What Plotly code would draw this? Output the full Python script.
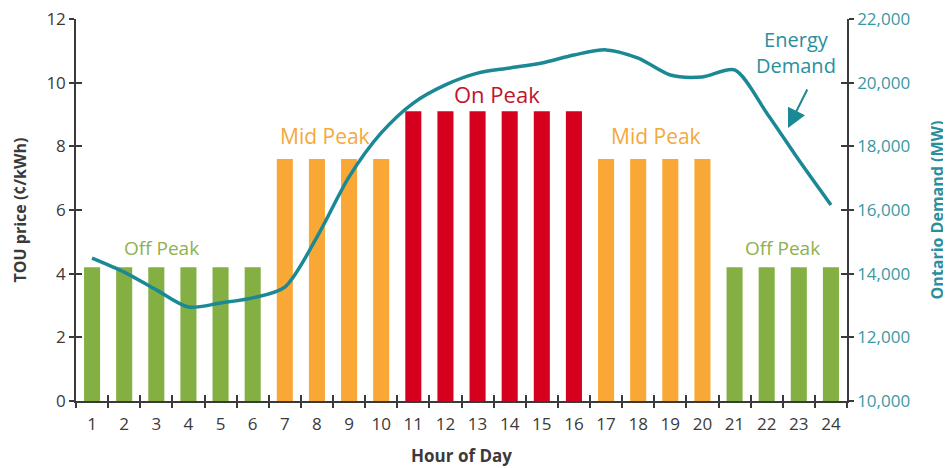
import plotly.graph_objects as go

hours = list(range(1, 25))
tou_price = [4.2]*6 + [7.6]*4 + [9.1]*6 + [7.6]*4 + [4.2]*4
period = ["off"]*6 + ["mid"]*4 + ["on"]*6 + ["mid"]*4 + ["off"]*4
demand_mw = [14490, 14050, 13490, 12950, 13080, 13240, 13580, 15150, 17040, 18420,
             19360, 19930, 20300, 20460, 20620, 20870, 21030, 20770, 20240, 20180,
             20400, 19050, 17570, 16160]
price_ticks = [0, 2, 4, 6, 8, 10, 12]
demand_ticks = [10000, 12000, 14000, 16000, 18000, 20000, 22000]

period_colors = {"off": "#84b043", "mid": "#f9a836", "on": "#d4001e"}
FONT = "Open Sans"
TEAL = "#1a8995"
AXIS = "#3a3a3a"

x_range = [hours[0] - 0.5, hours[-1] + 0.5]
boundaries = [h - 0.5 for h in hours] + [hours[-1] + 0.5]
p_range = [price_ticks[0], price_ticks[-1]]
d_range = [demand_ticks[0], demand_ticks[-1]]

fig = go.Figure()
fig.add_trace(go.Bar(
    x=hours, y=tou_price, width=0.5,
    marker=dict(color=[period_colors[p] for p in period], line=dict(width=0)),
    showlegend=False,
))
fig.add_trace(go.Scatter(
    x=hours, y=demand_mw, yaxis="y2", mode="lines",
    line=dict(color=TEAL, width=3.5, shape="spline", smoothing=0.8),
    showlegend=False,
))
# invisible helper traces so the tick-overlay axes get drawn
for xa, ya in [("x2", "y"), ("x3", "y"), ("x", "y3"), ("x", "y4")]:
    fig.add_trace(go.Scatter(
        x=hours, y=tou_price if ya in ("y", "y3") else demand_mw,
        xaxis=xa, yaxis=ya, mode="markers", marker=dict(opacity=0, size=1),
        hoverinfo="skip", showlegend=False,
    ))

common = dict(showgrid=False, zeroline=False, automargin=False)
fig.update_layout(
    width=943, height=460,
    margin=dict(l=68, r=104, t=11, b=67),
    paper_bgcolor="white", plot_bgcolor="white",
    font=dict(family=FONT, size=16, color=AXIS),
    xaxis=dict(
        range=x_range, tickvals=hours, ticks="outside", ticklen=7,
        tickcolor="rgba(0,0,0,0)",
        showline=True, linecolor=AXIS, linewidth=1.5,
        tickfont=dict(size=17, color=AXIS),
        title=dict(text="<b>Hour of Day</b>", font=dict(size=17, color=AXIS), standoff=16),
        **common,
    ),
    xaxis2=dict(
        overlaying="x", anchor="y", range=x_range, tickvals=boundaries,
        ticks="outside", ticklen=6, tickcolor=AXIS, tickwidth=1.5,
        showticklabels=False, showline=False, **common,
    ),
    xaxis3=dict(
        overlaying="x", anchor="y", range=x_range, tickvals=boundaries,
        ticks="inside", ticklen=6, tickcolor=AXIS, tickwidth=1.5,
        showticklabels=False, showline=False, **common,
    ),
    yaxis=dict(
        range=p_range, tickvals=price_ticks, ticks="outside", ticklen=5,
        showline=True, linecolor=AXIS, linewidth=1.5, tickcolor=AXIS, tickwidth=1.5,
        tickfont=dict(size=17, color=AXIS), ticklabeloverflow="allow",
        title=dict(text="<b>TOU price (¢/kWh)</b>", font=dict(size=16, color=AXIS), standoff=16),
        **common,
    ),
    yaxis3=dict(
        overlaying="y", anchor="x", side="left", range=p_range, tickvals=price_ticks,
        ticks="inside", ticklen=6, tickcolor=AXIS, tickwidth=1.5,
        showticklabels=False, showline=False, **common,
    ),
    yaxis2=dict(
        overlaying="y", anchor="x", side="right", range=d_range,
        tickvals=demand_ticks, tickformat=",",
        ticks="outside", ticklen=5,
        showline=True, linecolor=AXIS, linewidth=1.5, tickcolor=AXIS, tickwidth=1.5,
        tickfont=dict(size=17, color="#3b98a3"), ticklabeloverflow="allow",
        title=dict(text="<b>Ontario Demand (MW)</b>", font=dict(size=16, color="#2a8f9c"), standoff=23),
        **common,
    ),
    yaxis4=dict(
        overlaying="y", anchor="x", side="right", range=d_range, tickvals=demand_ticks,
        ticks="inside", ticklen=6, tickcolor=AXIS, tickwidth=1.5,
        showticklabels=False, showline=False, **common,
    ),
)

def label(text, xp, yp, color, size):
    fig.add_annotation(text=text, x=xp, y=yp, xref="paper", yref="paper",
                       showarrow=False, font=dict(family=FONT, size=size, color=color),
                       xanchor="center", yanchor="middle", align="center")

label("Off Peak", 0.1115, 0.4005, "#8db14f", 19)
label("Mid Peak", 0.323, 0.694, "#f5a83c", 21)
label("On Peak", 0.546, 0.804, "#c2132c", 22)
label("Mid Peak", 0.752, 0.694, "#f5a83c", 21)
label("Off Peak", 0.916, 0.4005, "#8db14f", 19)
label("Energy<br>Demand", 0.9345, 0.911, "#2a8f9c", 20)

fig.add_annotation(text="", x=0.9235, y=0.7147, xref="paper", yref="paper",
                   showarrow=True, ax=20, ay=-40, arrowhead=2, arrowsize=1.9,
                   arrowwidth=2, arrowcolor=TEAL)

fig.write_html("out.html")
